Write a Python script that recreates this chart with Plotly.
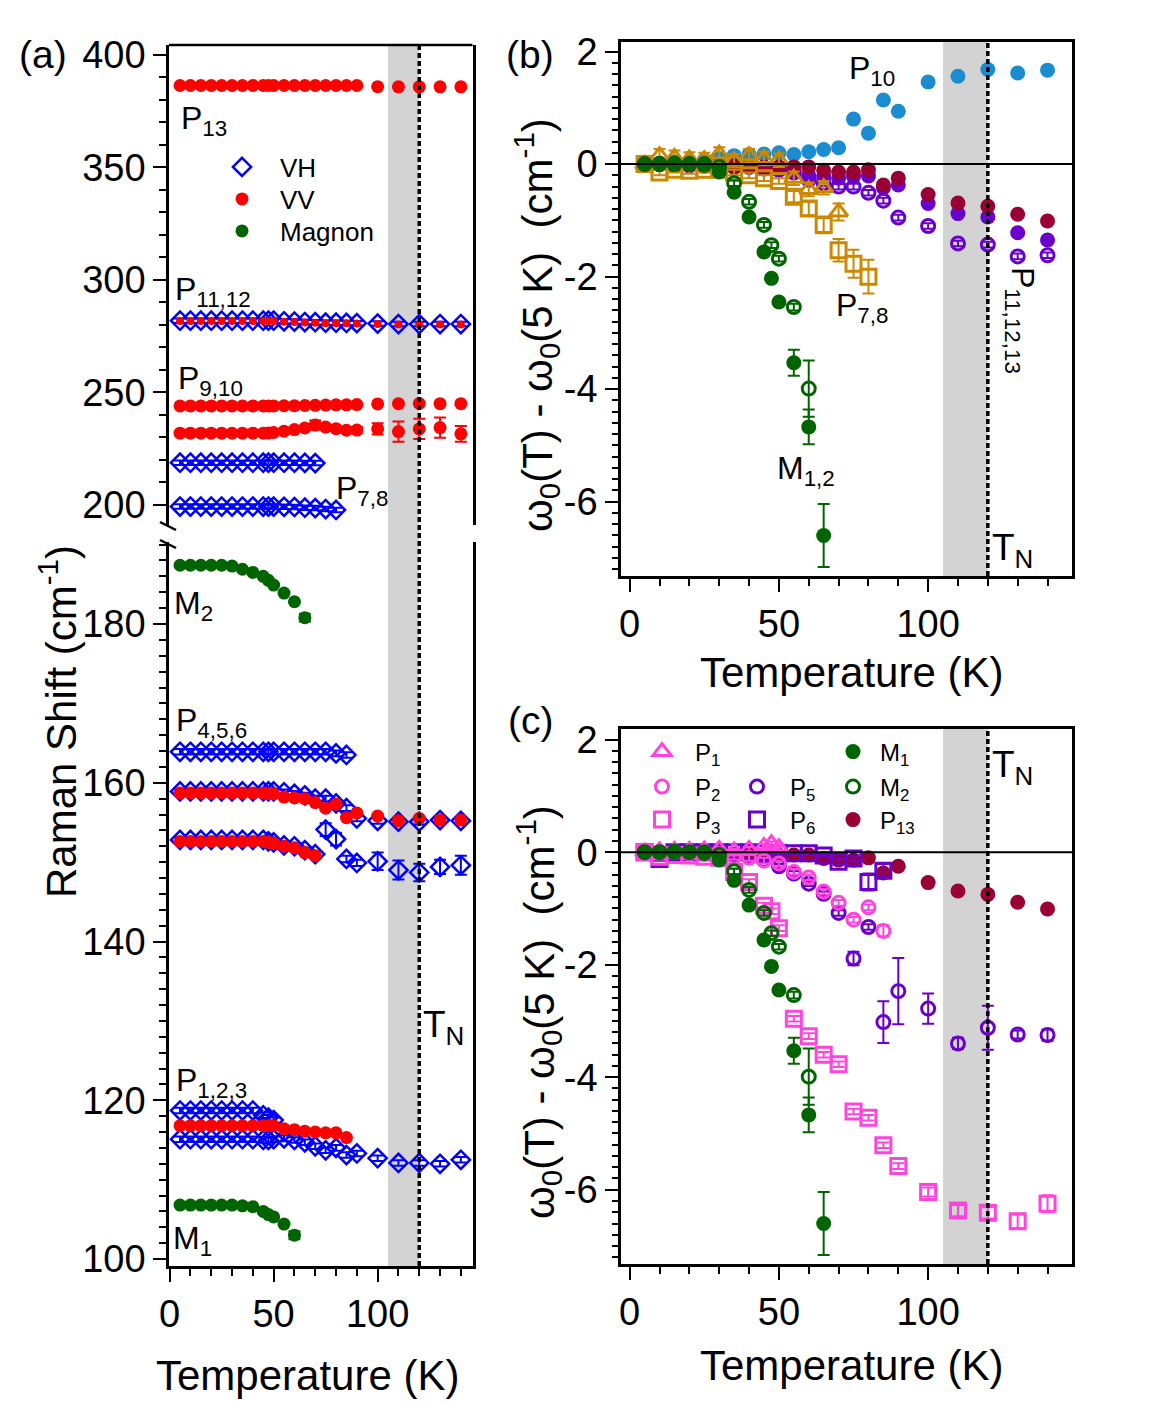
import plotly.graph_objects as go

W, H = 1163, 1406

# temperatures (K)
T_A = [5, 10, 15, 20, 25, 30, 35, 40, 45, 47.5, 50, 55, 60, 65, 70, 75, 80, 85, 90, 100, 110, 120, 130, 140]
T_B = [5, 10, 15, 20, 25, 30, 35, 40, 45, 50, 55, 60, 65, 70, 75, 80, 85, 90, 100, 110, 120, 130, 140]
T_M = [5, 10, 15, 20, 25, 30, 35, 40, 45, 47.5, 50, 55, 60, 65]

# ---- panel (a): Raman shift (cm-1) ----
vv_p13 = [386.4] * 19 + [385.9, 385.8, 385.8, 385.8, 385.8]
vh_p11 = [281.9] * 11 + [281.6, 281.5, 281.3, 281.2, 281.0, 281.0, 280.9, 280.8, 280.6, 280.4, 280.4, 280.4, 280.4]
vv_p12 = [281.7] * 11 + [281.4, 281.3, 281.1, 281.0, 280.8, 280.8, 280.7, 280.6, 280.4, 280.2, 280.2, 280.2, 280.2]
vv_p9 = [244.0] * 11 + [244.1, 244.1, 244.2, 244.3, 244.4, 244.5, 244.5, 244.6, 244.9, 245.0, 245.1, 245.0, 245.0]
vv_p10 = [231.9] * 9 + [232.0, 232.2, 232.8, 233.5, 234.2, 235.5, 234.6, 233.9, 233.2, 233.3,
                        233.8, 232.6, 233.8, 234.4, 231.6]
vv_p10_err = [0.3] * 11 + [0.6, 0.8, 1.0, 2.0, 1.0, 1.0, 1.2, 1.4, 2.5, 4.5, 4.5, 4.5, 3.5]
vh_p7 = [218.8] * 13 + [218.7, 218.6]
vh_p8 = [199.3] * 11 + [199.2, 199.1, 198.8, 198.6, 198.2, 197.8]

mag_m2_a = [187.4, 187.4, 187.4, 187.4, 187.4, 187.3, 186.9, 186.5, 186.0, 185.5, 184.9, 183.9, 182.8, 180.8]
mag_m1_a = [106.8, 106.8, 106.8, 106.8, 106.8, 106.8, 106.7, 106.6, 106.0, 105.6, 105.3, 104.4, 103.0]
vh_p4 = [163.9] * 16 + [163.7, 163.5]
vh_p5 = [158.9] * 11 + [158.8, 158.6, 158.4, 158.0, 158.0, 157.4, 156.8, 155.5, 155.2, 155.1, 155.1, 155.3, 155.2]
vv_p5 = [158.7] * 9 + [158.6, 158.6, 158.2, 158.1, 158.0, 157.5, 156.8, 157.3, 155.6, 156.2,
                       155.8, 155.2, 155.5, 155.3, 155.3]
vh_p6 = [152.8] * 9 + [152.6, 152.5, 152.1, 152.0, 151.5, 151.0, 154.1, 152.9, 150.4, 149.9,
                       150.1, 149.0, 148.7, 149.4, 149.6]
vh_p6_err = [0.35] * 15 + [0.8, 0.8, 0.4, 0.4, 1.1, 1.2, 1.1, 0.9, 1.2]
vv_p6 = [152.6] * 9 + [152.5, 152.4, 152.0, 151.8, 151.2, 150.8]
vh_p1 = [118.7] * 8 + [118.1, 117.8, 117.5]
vv_p2 = [116.8] * 11 + [116.4, 116.3, 116.1, 116.0, 115.9, 115.9, 115.3]
vh_p3 = [115.1] * 8 + [115.0, 115.0, 115.1, 115.2, 115.0, 114.7, 114.2, 113.7, 114.0, 113.1, 113.3,
                       112.7, 112.1, 112.1, 112.0, 112.5]

# ---- panels (b), (c): w0(T) - w0(5 K) (cm-1) ----
d_p10 = [0.0, 0.02, 0.04, 0.05, 0.07, 0.1, 0.15, 0.17, 0.18, 0.2, 0.17, 0.22, 0.26, 0.29, 0.8, 0.55, 1.14, 0.94,
         1.46, 1.56, 1.68, 1.62, 1.67]
d_p13 = [0.0, 0.0, -0.02, -0.02, -0.03, -0.03, -0.04, -0.04, -0.05, -0.05, -0.05, -0.05, -0.11, -0.14, -0.14, -0.1,
         -0.37, -0.25, -0.54, -0.69, -0.75, -0.89, -1.01]
d_p11 = [0.0, 0.0, 0.0, -0.02, -0.02, -0.03, -0.03, -0.05, -0.05, -0.08, -0.12, -0.2, -0.22, -0.25, -0.22, -0.21,
         -0.42, -0.37, -0.7, -0.88, -0.94, -1.22, -1.35]
d_p12 = [0.0, 0.0, -0.02, -0.02, -0.03, -0.03, -0.05, -0.05, -0.08, -0.1, -0.15, -0.28, -0.34, -0.4, -0.4, -0.51,
         -0.65, -0.95, -1.1, -1.41, -1.43, -1.64, -1.62]
d_p7 = [0.0, 0.15, 0.12, 0.09, 0.08, 0.18, 0.06, 0.15, 0.1, 0.07, -0.25, -0.45, -0.42, -0.85]
d_p7_err = [0.12] * 13 + [0.15]
d_p8 = [0.0, -0.15, -0.1, -0.12, -0.1, -0.1, -0.15, -0.2, -0.25, -0.3, -0.58, -0.79, -1.08, -1.53, -1.77, -2.0]
d_p8_err = [0.05] * 10 + [0.1, 0.12, 0.15, 0.2, 0.25, 0.3]
d_m1 = [0.0, 0.0, 0.02, 0.0, -0.02, -0.14, -0.5, -0.94, -1.56, -2.03, -2.45, -3.53, -4.67, -6.6]
d_m1_err = [0.03] * 11 + [0.23, 0.31, 0.56]
d_m2 = [0.0, 0.0, 0.0, 0.0, 0.0, -0.05, -0.34, -0.67, -1.08, -1.44, -1.68, -2.54, -3.99]
d_m2_err = [0.03] * 6 + [0.05] * 5 + [0.06, 0.5]

d_p1 = [0.0, 0.02, 0.03, 0.03, 0.04, 0.05, 0.02, 0.05, 0.1, 0.15, 0.08]
d_p2 = [0.0, 0.0, 0.0, -0.02, -0.03, -0.05, -0.08, -0.1, -0.15, -0.2, -0.35, -0.45, -0.7, -0.9, -1.2, -0.98, -1.4]
d_p3 = [0.0, -0.08, -0.05, -0.06, -0.08, -0.1, -0.35, -0.53, -0.95, -1.05, -1.35, -2.96, -3.27, -3.6, -3.77,
        -4.61, -4.72, -5.21, -5.58, -6.04, -6.37, -6.41, -6.56, -6.25]
d_p3_err = [0.05] * 19 + [0.08, 0.1, 0.1, 0.12, 0.15]
d_p5 = [0.0, 0.0, 0.0, 0.0, -0.02, -0.02, -0.05, -0.08, -0.14, -0.25, -0.38, -0.56, -0.74, -1.08, -1.89, -1.33,
        -3.02, -2.47, -2.78, -3.4, -3.12, -3.24, -3.25]
d_p5_err = [0.04] * 13 + [0.05, 0.12, 0.05, 0.37, 0.59, 0.27, 0.1, 0.39, 0.07, 0.1]
d_p6 = [0.0, -0.12, 0.0, 0.0, 0.0, 0.0, 0.0, 0.0, -0.02, -0.02, -0.02, -0.02, -0.06, -0.17, -0.11, -0.53, -0.33]
d_p6_err = [0.03] * 13 + [0.05, 0.05, 0.15, 0.12]

BLUE, RED, GREEN = "#0000ff", "#ff0000", "#006400"
CYAN, MAROON, PURPLE = "#1a8ccf", "#990033", "#6a00cc"
ORANGE, PINK = "#cc8800", "#ff44dd"
FONT = "Liberation Sans, Arial, sans-serif"


def px_x(p):
    return p / W


def px_y(p):
    return 1 - p / H


fig = go.Figure()
legends = {}


def add(x, y, xa, ya, sym, color, size, err=None, name=None, leg=None, lw=2.5):
    # leg = (legend id, symbol x px, row y px, text gap px, font size)
    filled = "open" not in sym
    if leg:
        lid, sx, sy, gap, fs = leg
        legends[lid] = dict(x=px_x(sx - gap), y=px_y(sy), xanchor="left", yanchor="middle",
                            itemwidth=max(2 * (gap - 5), 30), bgcolor="rgba(0,0,0,0)", borderwidth=0,
                            font=dict(family=FONT, size=fs, color="black"))
        kw = dict(showlegend=True, legend=lid)
    else:
        kw = dict(showlegend=False)
    fig.add_trace(go.Scatter(
        x=x, y=y, mode="markers", xaxis=xa, yaxis=ya, name=name, **kw,
        marker=dict(symbol=sym, size=size, color=color,
                    line=dict(color=color, width=0 if filled else lw)),
        error_y=dict(type="data", array=err, visible=err is not None,
                     color=color, thickness=2, width=6),
    ))


# panel (a) top segment
add(T_A, vh_p11, "x", "y", "diamond-open", BLUE, 14, err=[1.0] * 24, name="VH",
    leg=("legend", 242, 167, 38, 26))
add(T_A[:15], vh_p7, "x", "y", "diamond-open", BLUE, 14, err=[1.0] * 15)
add(T_A[:17], vh_p8, "x", "y", "diamond-open", BLUE, 14, err=[1.0] * 17)
add(T_A, vv_p13, "x", "y", "circle", RED, 13, name="VV", leg=("legend5", 242, 199, 38, 26))
add(T_A, vv_p12, "x", "y", "circle", RED, 8)
add(T_A, vv_p9, "x", "y", "circle", RED, 13)
add(T_A, vv_p10, "x", "y", "circle", RED, 13, err=vv_p10_err)
# panel (a) bottom segment
add(T_A[:18], vh_p4, "x", "y2", "diamond-open", BLUE, 14, err=[0.35] * 18)
add(T_A, vh_p5, "x", "y2", "diamond-open", BLUE, 14, err=[0.35] * 24)
add(T_A, vh_p6, "x", "y2", "diamond-open", BLUE, 14, err=vh_p6_err)
add(T_A[:11], vh_p1, "x", "y2", "diamond-open", BLUE, 14, err=[0.35] * 11)
add(T_A, vh_p3, "x", "y2", "diamond-open", BLUE, 14, err=[0.35] * 24)
add(T_A, vv_p5, "x", "y2", "circle", RED, 13)
add(T_A[:15], vv_p6, "x", "y2", "circle", RED, 13)
add(T_A[:18], vv_p2, "x", "y2", "circle", RED, 13)
add(T_M, mag_m2_a, "x", "y2", "circle", GREEN, 13, err=[0.05] * 13 + [0.5], name="Magnon",
    leg=("legend6", 242, 231, 38, 26))
add(T_M[:13], mag_m1_a, "x", "y2", "circle", GREEN, 13, err=[0.05] * 12 + [0.5])

# panel (b)
add(T_B, d_p10, "x2", "y3", "circle", CYAN, 15)
add(T_B, d_p11, "x2", "y3", "circle", PURPLE, 15)
add(T_B, d_p12, "x2", "y3", "circle-open", PURPLE, 13, err=[0.05] * 23, lw=3)
add(T_B, d_p13, "x2", "y3", "circle", MAROON, 15)
add(T_B[:16], d_p8, "x2", "y3", "square-open", ORANGE, 15, err=d_p8_err, lw=3)
add(T_B[:14], d_p7, "x2", "y3", "triangle-up-open", ORANGE, 16, err=d_p7_err, lw=3)
add(T_M[:13], d_m2, "x2", "y3", "circle-open", GREEN, 13, err=d_m2_err, lw=3)
add(T_M, d_m1, "x2", "y3", "circle", GREEN, 15, err=d_m1_err)

# panel (c)
add(T_B, d_p13, "x3", "y4", "circle", MAROON, 15, name="P<sub>13</sub>",
    leg=("legend7", 853, 820, 27, 24))
add(T_B[:17], d_p6, "x3", "y4", "square-open", PURPLE, 15, err=d_p6_err, lw=3, name="P<sub>6</sub>",
    leg=("legend8", 757, 820, 33, 24))
add(T_B, d_p5, "x3", "y4", "circle-open", PURPLE, 13, err=d_p5_err, lw=3, name="P<sub>5</sub>",
    leg=("legend9", 757, 787, 33, 24))
add(T_A, d_p3, "x3", "y4", "square-open", PINK, 15, err=d_p3_err, lw=3, name="P<sub>3</sub>",
    leg=("legend10", 662, 820, 33, 24))
add(T_B[:17], d_p2, "x3", "y4", "circle-open", PINK, 13, err=[0.05] * 16 + [0.1], lw=3, name="P<sub>2</sub>",
    leg=("legend11", 662, 787, 33, 24))
add(T_M[:11], d_p1, "x3", "y4", "triangle-up-open", PINK, 16, err=[0.04] * 11, lw=3, name="P<sub>1</sub>",
    leg=("legend12", 662, 752, 33, 24))
add(T_M[:13], d_m2, "x3", "y4", "circle-open", GREEN, 13, err=d_m2_err, lw=3, name="M<sub>2</sub>",
    leg=("legend13", 853, 787, 27, 24))
add(T_M, d_m1, "x3", "y4", "circle", GREEN, 15, err=d_m1_err, name="M<sub>1</sub>",
    leg=("legend14", 853, 752, 27, 24))

tickfont = dict(family=FONT, size=38, color="black")
axis_common = dict(showline=True, linecolor="black", linewidth=2.5, ticks="outside", tickwidth=2,
                   ticklen=13, tickcolor="black", showgrid=False, zeroline=False, tickfont=tickfont,
                   automargin=False)

# panel (a) axes
fig.update_layout(
    xaxis=dict(domain=[px_x(169), px_x(472.5)], range=[-0.3, 145.6], anchor="y2",
               tick0=0, dtick=50, minor=dict(dtick=10, ticklen=7, tickwidth=2, ticks="outside"),
               **axis_common),
    yaxis=dict(domain=[px_y(525), px_y(45)], range=[191.1, 404.4], anchor="x", mirror=True,
               tick0=0, dtick=50, minor=dict(dtick=10, ticklen=7, tickwidth=2, ticks="outside"),
               **axis_common),
    yaxis2=dict(domain=[px_y(1266), px_y(542)], range=[99.12, 190.33], anchor="x", mirror=True,
                tick0=0, dtick=20, minor=dict(dtick=2, ticklen=7, tickwidth=2, ticks="outside"),
                **axis_common),
)

dy_vals = [-6, -4, -2, 0, 2]
dy_text = ["-6", "-4", "-2", "0", "2"]
for xa, ya, top, bot in [("xaxis2", "yaxis3", 42, 576), ("xaxis3", "yaxis4", 729, 1264)]:
    yname = "y" + ya[5:]
    xname = "x" + xa[5:]
    fig.update_layout({
        xa: dict(domain=[px_x(621), px_x(1072)], range=[-2.9, 148.2], anchor=yname, mirror=True,
                 tick0=0, dtick=50, minor=dict(dtick=10, ticklen=7, tickwidth=2, ticks="outside"),
                 **axis_common),
        ya: dict(domain=[px_y(bot), px_y(top)], range=[-7.32, 2.17 if top == 42 else 2.19], anchor=xname,
                 mirror=True, tickmode="array", tickvals=dy_vals, ticktext=dy_text,
                 minor=dict(tickmode="linear", tick0=0, dtick=0.2, ticklen=6, tickwidth=2, ticks="outside"),
                 **axis_common),
    })

shapes = []
# gray band and T_N line, panel (a) across both segments
shapes.append(dict(type="rect", xref="x", yref="paper", x0=105, x1=120, y0=px_y(1266), y1=px_y(45),
                   fillcolor="#d3d3d3", line=dict(width=0), layer="below"))
shapes.append(dict(type="line", xref="x", yref="paper", x0=120, x1=120, y0=px_y(1266), y1=px_y(45),
                   line=dict(color="black", width=3.5, dash="5px,3px")))
shapes.append(dict(type="line", xref="x domain", yref="y domain", x0=0, x1=1, y0=1, y1=1,
                   line=dict(color="black", width=2.5)))
# break marks on the left spine
for yb in (522, 540):
    shapes.append(dict(type="line", xref="paper", yref="paper", x0=px_x(160), x1=px_x(176),
                       y0=px_y(yb), y1=px_y(yb + 8), line=dict(color="black", width=2.5)))
for xr, yr in [("x2", "y3"), ("x3", "y4")]:
    shapes.append(dict(type="rect", xref=xr, yref=yr + " domain", x0=105, x1=120, y0=0, y1=1,
                       fillcolor="#d3d3d3", line=dict(width=0), layer="below"))
    shapes.append(dict(type="line", xref=xr, yref=yr + " domain", x0=120, x1=120, y0=0, y1=1,
                       line=dict(color="black", width=3.5, dash="5px,3px")))
    shapes.append(dict(type="line", xref=xr + " domain", yref=yr, x0=0, x1=1, y0=0, y1=0,
                       line=dict(color="black", width=2)))

annotations = []


def ann(text, x, y, size, angle=0):
    annotations.append(dict(text=text, x=px_x(x), y=px_y(y), xref="paper", yref="paper",
                            showarrow=False, textangle=angle, xanchor="center", yanchor="middle",
                            font=dict(family=FONT, size=size, color="black")))


ann("(a)", 43, 55, 39)
ann("(b)", 530, 55, 39)
ann("(c)", 530, 720, 39)
ann("P<sub>13</sub>", 204, 120, 32)
ann("P<sub>11,12</sub>", 213, 292, 32)
ann("P<sub>9,10</sub>", 210, 380, 32)
ann("P<sub>7,8</sub>", 362, 490, 32)
ann("M<sub>2</sub>", 193, 605, 32)
ann("P<sub>4,5,6</sub>", 211, 722, 32)
ann("P<sub>1,2,3</sub>", 211, 1082, 32)
ann("M<sub>1</sub>", 192, 1240, 32)
ann("T<sub>N</sub>", 443, 1027, 37)
ann("P<sub>10</sub>", 872, 70, 32)
ann("P<sub>7,8</sub>", 862, 307, 32)
ann("M<sub>1,2</sub>", 806, 470, 32)
ann("P<sub>11,12,13</sub>", 1021, 320, 32, angle=90)
ann("T<sub>N</sub>", 1012, 550, 37)
ann("T<sub>N</sub>", 1012, 767, 37)
ann("Raman Shift (cm<sup>-1</sup>)", 58, 722, 42, angle=-90)
ann("Temperature (K)", 307, 1375, 42)
ann("Temperature (K)", 851, 672, 42)
ann("Temperature (K)", 851, 1365, 42)
ann("ω<sub>0</sub>(T) - ω<sub>0</sub>(5 K) &nbsp;(cm<sup>-1</sup>)", 536, 325, 42, angle=-90)
ann("ω<sub>0</sub>(T) - ω<sub>0</sub>(5 K) &nbsp;(cm<sup>-1</sup>)", 538, 1012, 42, angle=-90)

fig.update_layout(
    width=W, height=H, margin=dict(l=0, r=0, t=0, b=0, pad=0, autoexpand=False),
    paper_bgcolor="white", plot_bgcolor="rgba(0,0,0,0)",
    font=dict(family=FONT, color="black"),
    shapes=shapes, annotations=annotations,
    **legends,
)

# drop the default page margin so the figure sits at the window's corner
fig.write_html("out.html", config={"displayModeBar": False},
               post_script="document.body.style.margin='0';")
